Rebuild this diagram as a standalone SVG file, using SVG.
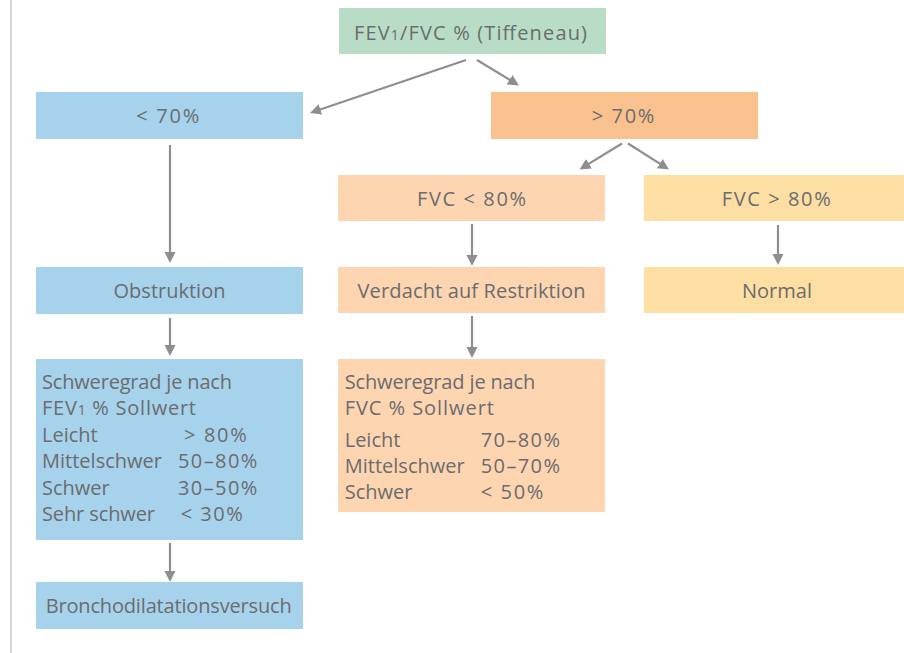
<svg xmlns="http://www.w3.org/2000/svg" width="904" height="653" viewBox="0 0 904 653">
<style>
text{font-family:"Open Sans","Liberation Sans",sans-serif;font-size:20px;fill:#6b6c6f}
.c{text-anchor:middle}
.sub{font-size:14px}
.con line{stroke:#8e8e91;stroke-width:2.2;fill:none}
</style>
<defs>
<marker id="ah" markerUnits="userSpaceOnUse" markerWidth="12" markerHeight="12" refX="8" refY="5.5" orient="auto">
<path d="M0,0 L11,5.5 L0,11 z" fill="#8e8e91"/>
</marker>
</defs>
<rect width="904" height="653" fill="#ffffff"/>
<line x1="11" y1="0" x2="11" y2="653" stroke="#c8c8c8" stroke-width="1.5"/>
<g id="n-root"><rect x="339" y="8" width="267" height="46" fill="#b8dcc5"/><text class="c" x="470.5" y="39.5" textLength="233" lengthAdjust="spacing">FEV<tspan class="sub">1</tspan>/FVC % (Tiffeneau)</text></g>
<g id="n-lt70"><rect x="36" y="92" width="267" height="47" fill="#a6d2ec"/><text class="c" x="167.7" y="123" textLength="63" lengthAdjust="spacing">&lt; 70%</text></g>
<g id="n-gt70"><rect x="491" y="92" width="267" height="47" fill="#f9c18e"/><text class="c" x="623" y="123" textLength="62.6" lengthAdjust="spacing">&gt; 70%</text></g>
<g id="n-fvclt80"><rect x="338" y="175" width="267" height="46" fill="#fdd5b0"/><text class="c" x="471.5" y="206" textLength="109" lengthAdjust="spacing">FVC &lt; 80%</text></g>
<g id="n-fvcgt80"><rect x="644" y="175" width="267" height="46" fill="#fddea3"/><text class="c" x="776.2" y="206" textLength="109" lengthAdjust="spacing">FVC &gt; 80%</text></g>
<g id="n-obstr"><rect x="36" y="267" width="267" height="47" fill="#a6d2ec"/><text class="c" x="169.5" y="298">Obstruktion</text></g>
<g id="n-restr"><rect x="338" y="267" width="267" height="46" fill="#fdd5b0"/><text class="c" x="471.5" y="297.5" textLength="228" lengthAdjust="spacing">Verdacht auf Restriktion</text></g>
<g id="n-normal"><rect x="644" y="267" width="267" height="46" fill="#fddea3"/><text class="c" x="777" y="298">Normal</text></g>
<g id="n-sev-fev"><rect x="36" y="359" width="267" height="181" fill="#a6d2ec"/>
<text x="42" y="388.5" textLength="190" lengthAdjust="spacing">Schweregrad je nach</text>
<text x="42" y="415" textLength="154" lengthAdjust="spacing">FEV<tspan class="sub">1</tspan> % Sollwert</text>
<text x="42" y="441.5">Leicht</text><text x="184" y="441.5" textLength="62.7" lengthAdjust="spacing">&gt; 80%</text>
<text x="42" y="468" textLength="120" lengthAdjust="spacing">Mittelschwer</text><text x="178" y="468" textLength="79.3" lengthAdjust="spacing">50–80%</text>
<text x="42" y="494.5">Schwer</text><text x="178" y="494.5" textLength="79.3" lengthAdjust="spacing">30–50%</text>
<text x="42" y="520.5" textLength="113" lengthAdjust="spacing">Sehr schwer</text><text x="180.7" y="520.5" textLength="62" lengthAdjust="spacing">&lt; 30%</text>
</g>
<g id="n-sev-fvc"><rect x="338" y="359" width="267" height="153" fill="#fdd5b0"/>
<text x="344.7" y="388.5" textLength="190.6" lengthAdjust="spacing">Schweregrad je nach</text>
<text x="344.7" y="415" textLength="149.3" lengthAdjust="spacing">FVC % Sollwert</text>
<text x="344.7" y="446.5">Leicht</text><text x="480.7" y="446.5" textLength="79.3" lengthAdjust="spacing">70–80%</text>
<text x="344.7" y="473" textLength="120" lengthAdjust="spacing">Mittelschwer</text><text x="480.7" y="473" textLength="79.3" lengthAdjust="spacing">50–70%</text>
<text x="344.7" y="499">Schwer</text><text x="480.7" y="499" textLength="62.6" lengthAdjust="spacing">&lt; 50%</text>
</g>
<g id="n-broncho"><rect x="36" y="582" width="267" height="47" fill="#a6d2ec"/><text class="c" x="168.7" y="613" textLength="246" lengthAdjust="spacing">Bronchodilatationsversuch</text></g>
<g id="connectors" class="con">
<line x1="466" y1="60" x2="312.8" y2="112" marker-end="url(#ah)"/>
<line x1="477" y1="60" x2="516.4" y2="83.9" marker-end="url(#ah)"/>
<line x1="622" y1="143.5" x2="582.1" y2="167.9" marker-end="url(#ah)"/>
<line x1="628" y1="143.5" x2="666.5" y2="167.9" marker-end="url(#ah)"/>
<line x1="170" y1="145" x2="170" y2="260" marker-end="url(#ah)"/>
<line x1="170" y1="318" x2="170" y2="353" marker-end="url(#ah)"/>
<line x1="170" y1="543" x2="170" y2="579" marker-end="url(#ah)"/>
<line x1="472" y1="224" x2="472" y2="263" marker-end="url(#ah)"/>
<line x1="472" y1="316" x2="472" y2="355" marker-end="url(#ah)"/>
<line x1="778" y1="225" x2="778" y2="262" marker-end="url(#ah)"/>
</g>
</svg>
